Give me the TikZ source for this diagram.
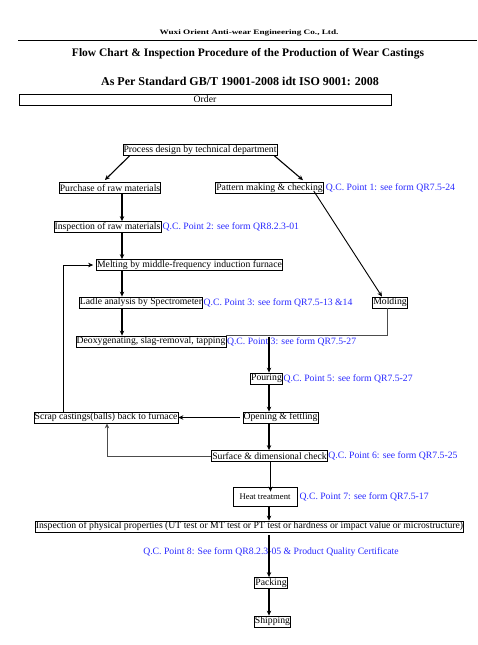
\documentclass[tikz,border=0pt]{standalone}
\usepackage{fontspec}
\setmainfont{Liberation Serif}
\newfontfamily\widefont[FakeStretch=1.35]{Liberation Serif}
\usetikzlibrary{positioning,arrows.meta}
\definecolor{qcblue}{RGB}{40,40,255}

\begin{document}
\begin{tikzpicture}
    [
        x = 1pt, y = -1pt,
        every node/.style = {font=\fontsize{9.7}{11}\selectfont},
        stage/.style = {draw, line width=0.8pt, inner xsep=0.6pt,
            inner ysep=0.4pt, minimum height=11pt},
        qc/.style    = {text=qcblue, inner sep=0pt},
        heading/.style = {font=\fontsize{11.5}{13}\selectfont\bfseries},
        flow/.style  = {-{Stealth[length=5pt,width=4.5pt]}, line width=1.1pt},
        thin flow/.style = {-{Stealth[length=5pt,width=4.5pt]}, line width=0.6pt},
        back/.style  = {gray!60!black, line width=0.7pt}
    ]
    \useasboundingbox (0,0) rectangle (477,645);

    % header
    \node [font=\widefont\fontsize{6.8}{8}\selectfont\bfseries] (company) at (249,33)
        {Wuxi Orient Anti-wear Engineering Co., Ltd.};
    \draw [line width=0.8pt] (18,40.5) -- (477,40.5);
    \node [heading] (title) at (248,54)
        {Flow Chart \& Inspection Procedure of the Production of Wear Castings};
    \node [heading, font=\fontsize{12}{14}\selectfont\bfseries] (standard) at (240,81)
        {As Per Standard GB/T 19001-2008 idt ISO 9001: 2008};
    \node [draw, line width=0.8pt, minimum width=372pt, minimum height=11pt,
        inner sep=0pt] (order) at (205,99.5) {Order};

    % stages
    \node [stage] (design)   at (200,150)   {Process design by technical department};
    \node [stage] (purchase) at (110,188)   {Purchase of raw materials};
    \node [stage] (pattern)  at (269.5,188) {Pattern making \& checking};
    \node [stage] (inspect)  at (107.5,227) {Inspection of raw materials};
    \node [stage] (melt)     at (189.5,265) {Melting by middle-frequency induction furnace};
    \node [stage] (ladle)    at (141,302.5) {Ladle analysis by Spectrometer};
    \node [stage] (molding)  at (390,302.5) {Molding};
    \node [stage] (deoxy)    at (151,341.5) {Deoxygenating, slag-removal, tapping};
    \node [stage] (pour)     at (266.5,378.5) {Pouring};
    \node [stage] (open)     at (280.5,417.5) {Opening \& fettling};
    \node [stage] (scrap)    at (106,417.5) {Scrap castings(balls) back to furnace};
    \node [stage] (surface)  at (269.5,456) {Surface \& dimensional check};
    \node [stage, minimum width=64pt, minimum height=19pt,
        font=\fontsize{8.6}{10}\selectfont] (heat) at (265,496.5) {Heat treatment};
    \node [stage] (physical) at (249.5,526.5) {Inspection of physical properties
        (UT test or MT test or PT test or hardness or impact value or microstructure)};
    \node [stage] (packing)  at (271,583)   {Packing};
    \node [stage] (shipping) at (272.5,621.5) {Shipping};

    % Q.C. points
    \node [qc, right=2pt of pattern]  (qc1) {Q.C. Point 1: see form QR7.5-24};
    \node [qc, right=1pt of inspect]  (qc2) {Q.C. Point 2: see form QR8.2.3-01};
    \node [qc, right=0.5pt of ladle]  (qc3) {Q.C. Point 3: see form QR7.5-13 \&14};
    \node [qc, right=0.5pt of deoxy]  (qc4) {Q.C. Point 3: see form QR7.5-27};
    \node [qc, right=0.5pt of pour]   (qc5) {Q.C. Point 5: see form QR7.5-27};
    \node [qc, right=0.5pt of surface] (qc6) {Q.C. Point 6: see form QR7.5-25};
    \node [qc, right=2pt of heat]     (qc7) {Q.C. Point 7: see form QR7.5-17};
    \node [qc] (qc8) at (271,552)
        {Q.C. Point 8: See form QR8.2.3-05 \& Product Quality Certificate};

    % connectors
    \coordinate (spine) at (122,0);
    \coordinate (trunk) at (269,0);
    \coordinate (loop)  at (63,0);
    \coordinate (meet)  at (269,336.5);

    \draw [flow, shorten >=3pt] ([xshift=7pt]design.south west)
        -- ([xshift=44pt]purchase.north west);
    \draw [flow, shorten >=3pt] ([xshift=-3pt]design.south east)
        -- ([xshift=90pt]pattern.north west);
    \draw [flow] (purchase.south -| spine) -- (inspect.north -| spine);
    \draw [flow] (inspect.south -| spine) -- (melt.north -| spine);
    \draw [flow] (melt.south -| spine) -- (ladle.north -| spine);
    \draw [flow] (ladle.south -| spine) -- (deoxy.north -| spine);
    \draw [flow, line width=0.9pt] ([xshift=-10pt, yshift=3pt]pattern.south east)
        -- ([xshift=-8pt]molding.north);
    \draw [back] ([xshift=-3pt]molding.south) |- ([yshift=0.5pt]deoxy.north east);
    \draw [flow] (meet) -- (pour.north -| trunk);
    \draw [flow] (pour.south -| trunk) -- (open.north -| trunk);
    \draw [flow, shorten <=3pt] (open.west) -- (scrap.east);
    \draw [thin flow, shorten >=3pt] (scrap.north -| loop) |- (melt.west);
    \draw [flow] (open.south -| trunk) -- (surface.north -| trunk);
    \draw [back, -{Stealth[length=5pt,width=4.5pt]}] (surface.west)
        -| ([xshift=1pt]scrap.south);
    \draw [flow] ([xshift=1.5pt]surface.south -| trunk)
        -- ([xshift=1.5pt, yshift=-5pt]heat.north -| trunk);
    \draw [flow] (heat.south -| trunk) -- (physical.north -| trunk);
    \draw [flow, shorten <=3pt] (physical.south -| trunk) -- (packing.north -| trunk);
    \draw [flow] (packing.south -| trunk) -- (shipping.north -| trunk);
\end{tikzpicture}
\end{document}
